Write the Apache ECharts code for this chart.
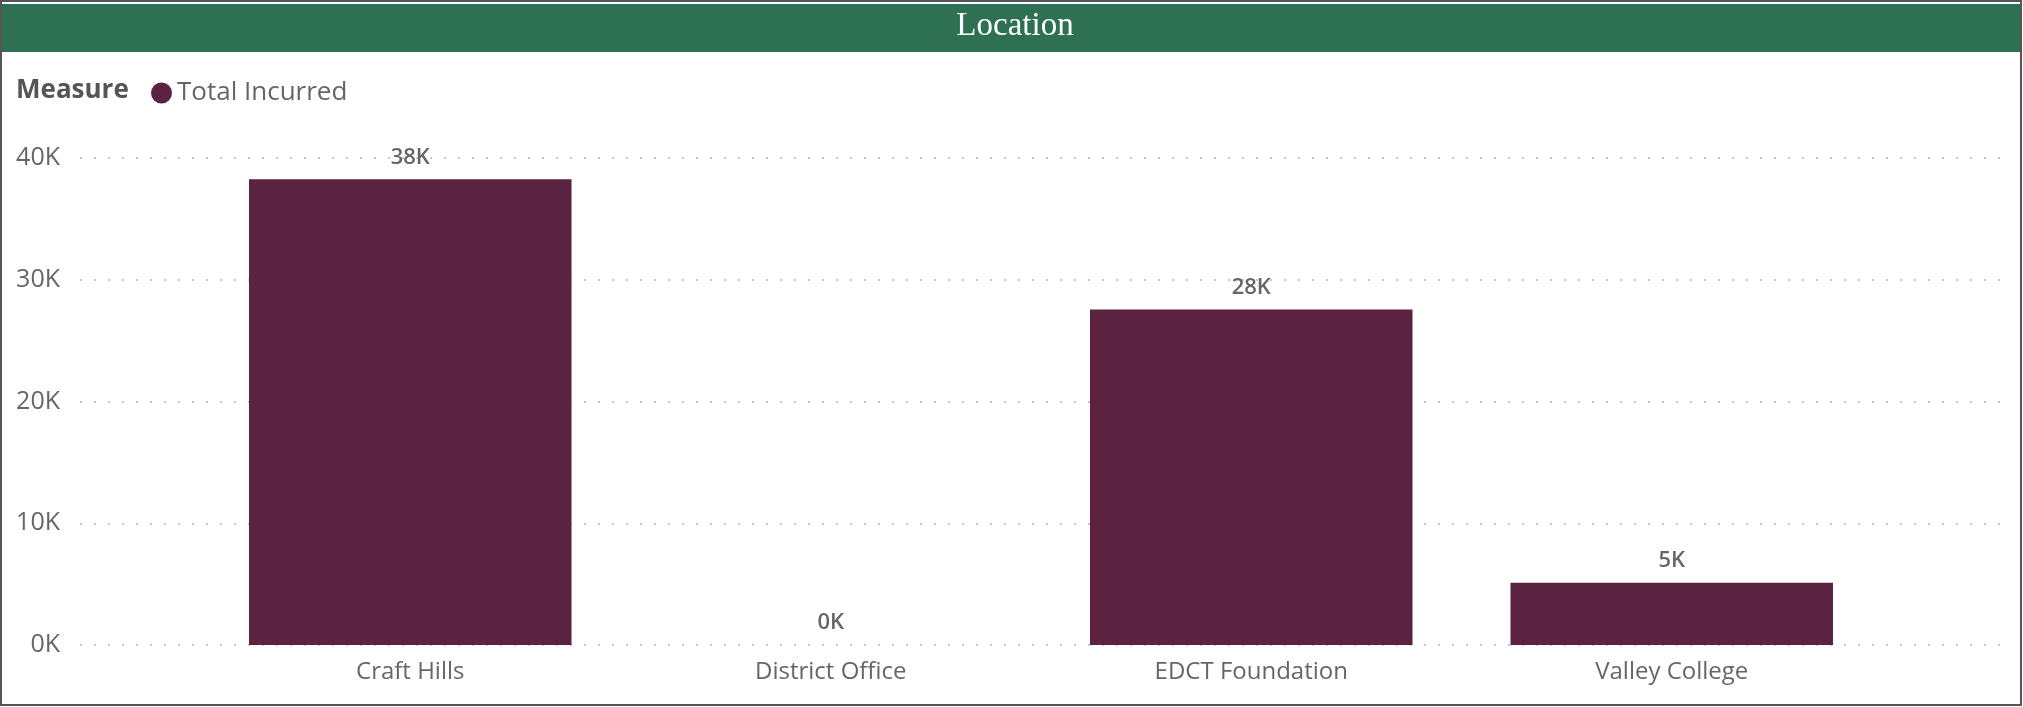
<!DOCTYPE html>
<html lang="en">
<head>
    <meta charset="UTF-8">
    <title>Location</title>
    <script src="https://cdn.jsdelivr.net/npm/echarts@6/dist/echarts.min.js"></script>
    <style>
        body { margin: 0; background: #fff; }
        #main { width: 2023px; height: 707px; }
    </style>
</head>
<body>
<div id="main"></div>
<script>
    // categories and values
    var locations = ['Craft Hills', 'District Office', 'EDCT Foundation', 'Valley College'];
    var totalIncurred = [38250, 0, 27550, 5120];
    var seriesName = 'Total Incurred';

    var barColor = '#5b2340';
    var textGray = '#666';
    var font = '"Open Sans", "Noto Sans", sans-serif';

    function kFormat(v) {
        return Math.round(v / 1000) + 'K';
    }

    var myChart = echarts.init(document.getElementById('main'));

    var option = {
        animation: false,
        textStyle: { fontFamily: font },
        graphic: [
            // outer frame
            {
                type: 'rect', z: 0,
                shape: { x: 1, y: 1, width: 2020, height: 704 },
                style: { fill: 'none', stroke: '#555', lineWidth: 2 }
            },
            // green header band
            {
                type: 'rect', z: 1,
                shape: { x: 2, y: 4, width: 2018, height: 48 },
                style: { fill: '#2e7052' }
            },
            {
                type: 'text', z: 2,
                x: 1015, y: 26,
                style: {
                    text: 'Location',
                    fill: '#fff',
                    font: '33px "Liberation Serif", serif',
                    textAlign: 'center',
                    textVerticalAlign: 'middle'
                }
            },
            {
                type: 'text', z: 2,
                x: 16, y: 91,
                style: {
                    text: 'Measure',
                    fill: '#555',
                    font: 'bold 26px "Open Sans", sans-serif',
                    textAlign: 'left',
                    textVerticalAlign: 'middle'
                }
            }
        ],
        legend: {
            data: [seriesName],
            left: 146,
            top: 75,
            icon: 'circle',
            itemWidth: 21,
            itemHeight: 21,
            textStyle: { fontSize: 26, color: textGray, fontFamily: font }
        },
        grid: [
            // full width grid for the dotted gridlines
            { left: 80, right: 15, top: 158, bottom: 62 },
            // narrower grid holding the bars
            { left: 200, right: 141, top: 158, bottom: 62 }
        ],
        xAxis: [
            { type: 'value', gridIndex: 0, show: false, min: 0, max: 1 },
            {
                type: 'category',
                gridIndex: 1,
                data: locations,
                axisLine: { show: false },
                axisTick: { show: false },
                axisLabel: { fontSize: 24, color: textGray, margin: 15, fontFamily: font }
            }
        ],
        yAxis: [
            {
                type: 'value',
                gridIndex: 0,
                min: 0,
                max: 40000,
                interval: 10000,
                axisLine: { show: false },
                axisTick: { show: false },
                axisLabel: {
                    fontSize: 25,
                    color: textGray,
                    margin: 20,
                    fontFamily: font,
                    formatter: kFormat
                },
                splitLine: {
                    lineStyle: { color: '#c8c8c8', width: 2, type: [2, 12] }
                }
            },
            {
                type: 'value',
                gridIndex: 1,
                min: 0,
                max: 40000,
                interval: 10000,
                show: false,
                splitLine: { show: false }
            }
        ],
        series: [
            {
                name: seriesName,
                type: 'bar',
                xAxisIndex: 1,
                yAxisIndex: 1,
                data: totalIncurred,
                barCategoryGap: '23.3%',
                itemStyle: { color: barColor },
                label: {
                    show: true,
                    position: 'top',
                    distance: 11,
                    fontSize: 22,
                    fontWeight: 600,
                    color: textGray,
                    fontFamily: font,
                    formatter: function (p) { return kFormat(p.value); }
                }
            }
        ]
    };

    myChart.setOption(option);
</script>
</body>
</html>
